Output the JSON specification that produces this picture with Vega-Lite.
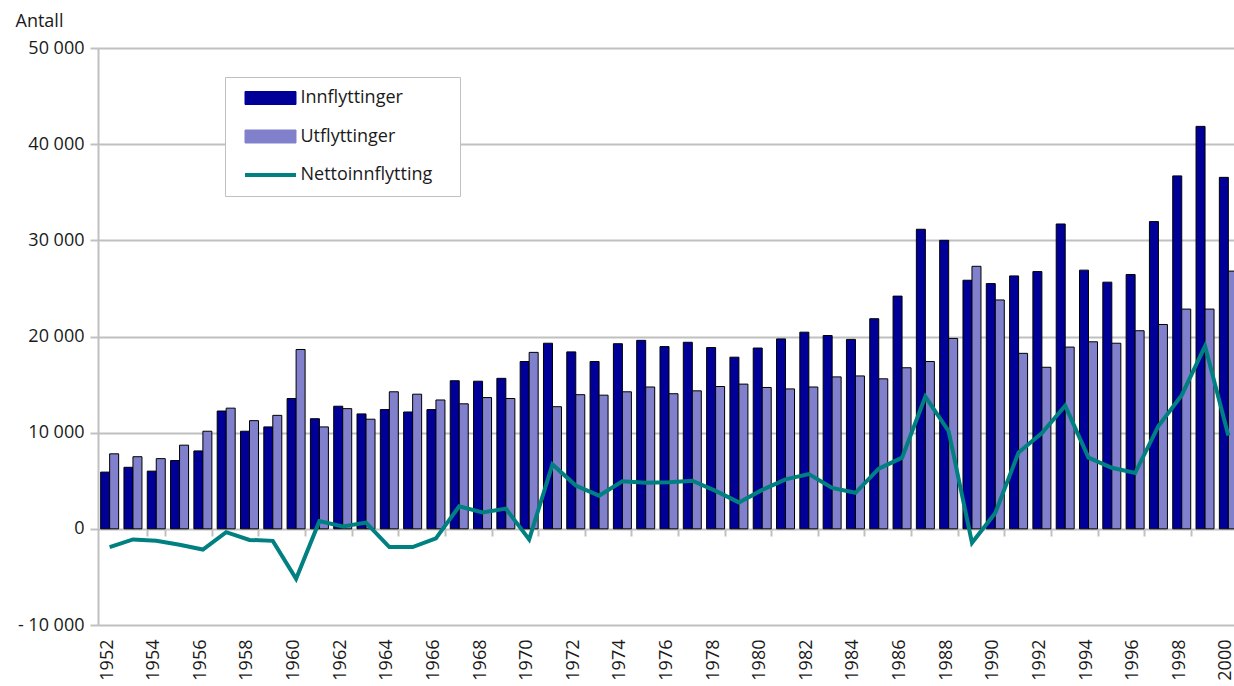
{
  "$schema": "https://vega.github.io/schema/vega-lite/v6.json",
  "width": 1142,
  "height": 577,
  "autosize": {"type": "none"},
  "padding": {"left": 98, "top": 48, "right": 0, "bottom": 61},
  "background": "white",
  "config": {
    "locale": {"number": {"decimal": ",", "thousands": " ", "grouping": [3], "currency": ["", ""], "minus": "- "}},
    "view": {"stroke": null},
    "font": "Open Sans"
  },
  "data": {"values": [
    {"year": 1952, "Innflyttinger": 5900, "Utflyttinger": 7800, "Nettoinnflytting": -1900},
    {"year": 1953, "Innflyttinger": 6400, "Utflyttinger": 7500, "Nettoinnflytting": -1100},
    {"year": 1954, "Innflyttinger": 6000, "Utflyttinger": 7300, "Nettoinnflytting": -1250},
    {"year": 1955, "Innflyttinger": 7100, "Utflyttinger": 8700, "Nettoinnflytting": -1650},
    {"year": 1956, "Innflyttinger": 8100, "Utflyttinger": 10150, "Nettoinnflytting": -2150},
    {"year": 1957, "Innflyttinger": 12250, "Utflyttinger": 12550, "Nettoinnflytting": -350},
    {"year": 1958, "Innflyttinger": 10150, "Utflyttinger": 11250, "Nettoinnflytting": -1150},
    {"year": 1959, "Innflyttinger": 10600, "Utflyttinger": 11800, "Nettoinnflytting": -1250},
    {"year": 1960, "Innflyttinger": 13550, "Utflyttinger": 18650, "Nettoinnflytting": -5200},
    {"year": 1961, "Innflyttinger": 11450, "Utflyttinger": 10600, "Nettoinnflytting": 800},
    {"year": 1962, "Innflyttinger": 12750, "Utflyttinger": 12500, "Nettoinnflytting": 250},
    {"year": 1963, "Innflyttinger": 11950, "Utflyttinger": 11400, "Nettoinnflytting": 650},
    {"year": 1964, "Innflyttinger": 12400, "Utflyttinger": 14250, "Nettoinnflytting": -1900},
    {"year": 1965, "Innflyttinger": 12150, "Utflyttinger": 14000, "Nettoinnflytting": -1900},
    {"year": 1966, "Innflyttinger": 12400, "Utflyttinger": 13400, "Nettoinnflytting": -1000},
    {"year": 1967, "Innflyttinger": 15400, "Utflyttinger": 13000, "Nettoinnflytting": 2350},
    {"year": 1968, "Innflyttinger": 15350, "Utflyttinger": 13650, "Nettoinnflytting": 1700},
    {"year": 1969, "Innflyttinger": 15650, "Utflyttinger": 13550, "Nettoinnflytting": 2100},
    {"year": 1970, "Innflyttinger": 17400, "Utflyttinger": 18350, "Nettoinnflytting": -1100},
    {"year": 1971, "Innflyttinger": 19300, "Utflyttinger": 12700, "Nettoinnflytting": 6700},
    {"year": 1972, "Innflyttinger": 18400, "Utflyttinger": 13950, "Nettoinnflytting": 4500},
    {"year": 1973, "Innflyttinger": 17400, "Utflyttinger": 13900, "Nettoinnflytting": 3450},
    {"year": 1974, "Innflyttinger": 19250, "Utflyttinger": 14250, "Nettoinnflytting": 4950},
    {"year": 1975, "Innflyttinger": 19600, "Utflyttinger": 14750, "Nettoinnflytting": 4800},
    {"year": 1976, "Innflyttinger": 18950, "Utflyttinger": 14050, "Nettoinnflytting": 4850},
    {"year": 1977, "Innflyttinger": 19400, "Utflyttinger": 14350, "Nettoinnflytting": 5000},
    {"year": 1978, "Innflyttinger": 18850, "Utflyttinger": 14800, "Nettoinnflytting": 3950},
    {"year": 1979, "Innflyttinger": 17850, "Utflyttinger": 15050, "Nettoinnflytting": 2750},
    {"year": 1980, "Innflyttinger": 18800, "Utflyttinger": 14700, "Nettoinnflytting": 4050},
    {"year": 1981, "Innflyttinger": 19750, "Utflyttinger": 14550, "Nettoinnflytting": 5150},
    {"year": 1982, "Innflyttinger": 20450, "Utflyttinger": 14750, "Nettoinnflytting": 5700},
    {"year": 1983, "Innflyttinger": 20100, "Utflyttinger": 15800, "Nettoinnflytting": 4250},
    {"year": 1984, "Innflyttinger": 19700, "Utflyttinger": 15900, "Nettoinnflytting": 3750},
    {"year": 1985, "Innflyttinger": 21850, "Utflyttinger": 15600, "Nettoinnflytting": 6250},
    {"year": 1986, "Innflyttinger": 24200, "Utflyttinger": 16750, "Nettoinnflytting": 7400},
    {"year": 1987, "Innflyttinger": 31150, "Utflyttinger": 17400, "Nettoinnflytting": 13750},
    {"year": 1988, "Innflyttinger": 30000, "Utflyttinger": 19800, "Nettoinnflytting": 10150},
    {"year": 1989, "Innflyttinger": 25850, "Utflyttinger": 27300, "Nettoinnflytting": -1450},
    {"year": 1990, "Innflyttinger": 25500, "Utflyttinger": 23800, "Nettoinnflytting": 1650},
    {"year": 1991, "Innflyttinger": 26300, "Utflyttinger": 18250, "Nettoinnflytting": 7950},
    {"year": 1992, "Innflyttinger": 26750, "Utflyttinger": 16800, "Nettoinnflytting": 9950},
    {"year": 1993, "Innflyttinger": 31700, "Utflyttinger": 18900, "Nettoinnflytting": 12800},
    {"year": 1994, "Innflyttinger": 26900, "Utflyttinger": 19450, "Nettoinnflytting": 7400},
    {"year": 1995, "Innflyttinger": 25650, "Utflyttinger": 19300, "Nettoinnflytting": 6350},
    {"year": 1996, "Innflyttinger": 26450, "Utflyttinger": 20600, "Nettoinnflytting": 5800},
    {"year": 1997, "Innflyttinger": 31950, "Utflyttinger": 21250, "Nettoinnflytting": 10700},
    {"year": 1998, "Innflyttinger": 36700, "Utflyttinger": 22850, "Nettoinnflytting": 13900},
    {"year": 1999, "Innflyttinger": 41850, "Utflyttinger": 22850, "Nettoinnflytting": 19000},
    {"year": 2000, "Innflyttinger": 36550, "Utflyttinger": 26800, "Nettoinnflytting": 9700}
  ]},
  "transform": [{"fold": ["Innflyttinger", "Utflyttinger", "Nettoinnflytting"], "as": ["serie", "antall"]}],
  "layer": [
    {
      "transform": [{"filter": "datum.serie !== 'Nettoinnflytting'"}],
      "mark": {"type": "bar", "stroke": "black", "strokeWidth": 1},
      "encoding": {
        "x": {
          "field": "year", "type": "ordinal",
          "scale": {"paddingInner": 0.228, "paddingOuter": 0.114},
          "axis": {
            "orient": "bottom", "title": null,
            "values": [1952,1954,1956,1958,1960,1962,1964,1966,1968,1970,1972,1974,1976,1978,1980,1982,1984,1986,1988,1990,1992,1994,1996,1998,2000],
            "labelAngle": -90, "labelFontSize": 18, "labelColor": "#1a1a1a", "labelPadding": 14, "labelOffset": -2,
            "ticks": false, "domain": false, "grid": false
          }
        },
        "xOffset": {"field": "serie", "type": "nominal", "sort": ["Innflyttinger", "Utflyttinger"], "scale": {"paddingInner": 0, "paddingOuter": 0}},
        "y": {
          "field": "antall", "type": "quantitative",
          "scale": {"domain": [-10000, 50000], "nice": false},
          "axis": {
            "values": [-10000, 0, 10000, 20000, 30000, 40000, 50000],
            "grid": true, "gridColor": "#c0c0c0", "gridWidth": 2,
            "domain": true, "domainColor": "#c0c0c0", "domainWidth": 2,
            "ticks": true, "tickColor": "#c0c0c0", "tickWidth": 2, "tickSize": 8,
            "labelFontSize": 18, "labelColor": "#1a1a1a", "labelPadding": 6,
            "title": "Antall", "titleAngle": 0, "titleAlign": "left", "titleBaseline": "alphabetic",
            "titleX": -83, "titleY": -22, "titleFontSize": 18, "titleFontWeight": "normal", "titleColor": "#1a1a1a"
          }
        },
        "color": {
          "field": "serie", "type": "nominal",
          "scale": {"domain": ["Innflyttinger", "Utflyttinger", "Nettoinnflytting"], "range": ["#000099", "#8080cc", "#008080"]},
          "legend": {
            "orient": "none", "legendX": 127, "legendY": 29,
            "title": " ", "titleOrient": "right", "titlePadding": 16, "titleFontSize": 18,
            "strokeColor": "#c0c0c0", "fillColor": "white", "padding": 12,
            "rowPadding": 20.5, "symbolOffset": 24.5,
            "labelFontSize": 18, "labelColor": "#1a1a1a", "labelOffset": 21,
            "symbolSize": 324,
            "symbolType": {"expr": "datum.value === 'Nettoinnflytting' ? 'M-2.833,0H2.833' : 'M-2.833,-0.722H2.833V0.722H-2.833Z'"},
            "symbolStrokeColor": {"expr": "datum.value === 'Nettoinnflytting' ? '#008080' : 'black'"},
            "symbolStrokeWidth": {"expr": "datum.value === 'Nettoinnflytting' ? 4 : 1"},
            "encode": {
              "legend": {"strokeWidth": {"value": 2}}
            }
          }
        }
      }
    },
    {
      "transform": [{"filter": "datum.serie === 'Nettoinnflytting'"}],
      "mark": {"type": "line", "strokeWidth": 4},
      "encoding": {
        "x": {
          "field": "year", "type": "ordinal",
          "axis": {
            "orient": "bottom", "offset": -96, "title": null, "labels": false, "domain": false, "grid": false,
            "ticks": true, "tickBand": "extent", "tickSize": 7, "tickColor": "#c0c0c0", "tickWidth": 2,
            "values": [1954,1956,1958,1960,1962,1964,1966,1968,1970,1972,1974,1976,1978,1980,1982,1984,1986,1988,1990,1992,1994,1996,1998,2000]
          }
        },
        "y": {"field": "antall", "type": "quantitative"},
        "color": {"field": "serie", "type": "nominal"}
      }
    }
  ],
  "resolve": {"axis": {"x": "independent"}}
}
